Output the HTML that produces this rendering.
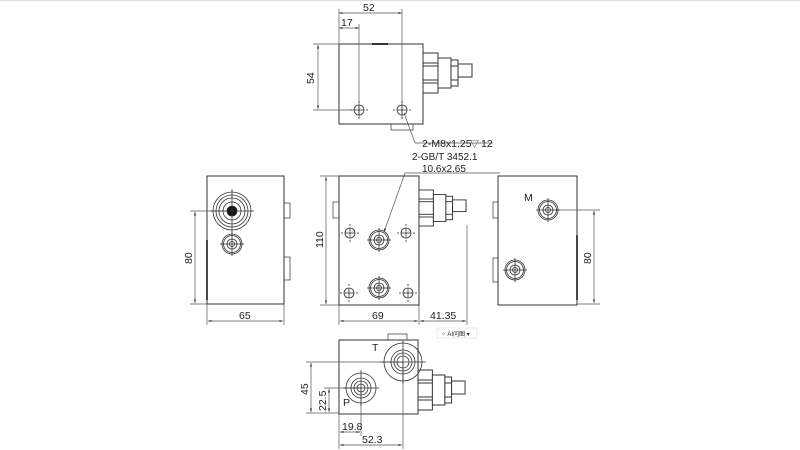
<!DOCTYPE html>
<html><head><meta charset="utf-8"><style>
html,body{margin:0;padding:0;background:#fff;width:800px;height:450px;overflow:hidden}
svg{display:block}
text{font-family:"Liberation Sans","Noto Sans CJK SC",sans-serif;fill:#222}
</style></head><body>
<svg width="800" height="450" viewBox="0 0 800 450" xmlns="http://www.w3.org/2000/svg">
<defs>
<g id="fit" fill="#fff" stroke="#333" stroke-width="1">
<rect x="0" y="0" width="15" height="40"/>
<line x1="0" y1="10" x2="15" y2="10"/><line x1="0" y1="13" x2="15" y2="13"/>
<line x1="0" y1="27" x2="15" y2="27"/><line x1="0" y1="30" x2="15" y2="30"/>
<rect x="15" y="5" width="13" height="30"/>
<rect x="28" y="7" width="7" height="26"/>
<line x1="28" y1="13" x2="35" y2="13"/><line x1="28" y1="27" x2="35" y2="27"/>
<rect x="35" y="11" width="14" height="13"/>
</g>
<g id="hole" fill="none" stroke="#333" stroke-width="0.8">
<circle r="5"/><line x1="-9" y1="0" x2="-7" y2="0"/><line x1="7" y1="0" x2="9" y2="0"/><line x1="0" y1="-9" x2="0" y2="-7"/><line x1="0" y1="7" x2="0" y2="9"/><line x1="-5" y1="0" x2="5" y2="0"/><line x1="0" y1="-5" x2="0" y2="5"/>
</g>
<g id="port" fill="none" stroke="#333" stroke-width="0.8">
<circle r="10"/><circle r="8.5"/><circle r="5"/><circle r="2.5"/>
<line x1="-12" y1="0" x2="12" y2="0"/><line x1="0" y1="-12" x2="0" y2="12"/>
</g>
<marker id="a" viewBox="0 0 10 10" refX="10" refY="5" markerWidth="7" markerHeight="5" orient="auto-start-reverse"><path d="M0,2 L10,5 L0,8z" fill="#333"/></marker>
</defs>
<line x1="0" y1="0.5" x2="800" y2="0.5" stroke="#ddd"/>
<g stroke="#555" stroke-width="0.7" fill="none">
<!-- top view -->
<rect x="339" y="44" width="84" height="80" stroke="#333" stroke-width="1"/>
<rect x="391" y="124" width="22" height="6" stroke="#333"/>
<line x1="372" y1="44" x2="388" y2="44" stroke="#333" stroke-width="2"/>
<line x1="339" y1="9" x2="339" y2="44"/><line x1="402" y1="9" x2="402" y2="118"/><line x1="359" y1="24" x2="359" y2="118"/>
<line x1="339" y1="13" x2="402" y2="13" marker-start="url(#a)" marker-end="url(#a)"/>
<line x1="339" y1="28" x2="359" y2="28" marker-start="url(#a)" marker-end="url(#a)"/>
<line x1="313" y1="44" x2="339" y2="44"/><line x1="313" y1="110" x2="354" y2="110"/>
<line x1="318" y1="45" x2="318" y2="109" marker-start="url(#a)" marker-end="url(#a)"/>
<line x1="404" y1="113" x2="415" y2="143"/><line x1="415" y1="143" x2="493" y2="143"/>
<line x1="405" y1="173" x2="500" y2="173"/><line x1="405" y1="173" x2="384" y2="232" marker-end="url(#a)"/>
<!-- middle view -->
<rect x="339" y="176" width="80" height="129" stroke="#333" stroke-width="1"/>
<rect x="333" y="202" width="6" height="16" stroke="#333"/>
<line x1="320" y1="176" x2="339" y2="176"/><line x1="320" y1="305" x2="339" y2="305"/>
<line x1="326" y1="177" x2="326" y2="304" marker-start="url(#a)" marker-end="url(#a)"/>
<line x1="339" y1="305" x2="339" y2="325"/><line x1="419" y1="305" x2="419" y2="325"/><line x1="467" y1="225" x2="467" y2="325"/>
<line x1="340" y1="321" x2="418" y2="321" marker-start="url(#a)" marker-end="url(#a)"/>
<line x1="420" y1="321" x2="466" y2="321" marker-start="url(#a)" marker-end="url(#a)"/>
<!-- left view -->
<rect x="207" y="176" width="77" height="128" stroke="#333" stroke-width="1"/>
<rect x="284" y="203" width="6" height="15" stroke="#333"/><rect x="284" y="257" width="6" height="23" stroke="#333"/>
<line x1="207" y1="240" x2="207" y2="300" stroke="#333" stroke-width="1.8"/>
<line x1="190" y1="211" x2="232" y2="211"/><line x1="190" y1="304" x2="207" y2="304"/>
<line x1="195" y1="212" x2="195" y2="303" marker-start="url(#a)" marker-end="url(#a)"/>
<line x1="207" y1="304" x2="207" y2="325"/><line x1="284" y1="304" x2="284" y2="325"/>
<line x1="208" y1="321" x2="283" y2="321" marker-start="url(#a)" marker-end="url(#a)"/>
<!-- right view -->
<rect x="498" y="176" width="79" height="129" stroke="#333" stroke-width="1"/>
<rect x="493" y="202" width="5" height="16" stroke="#333"/><rect x="493" y="258" width="5" height="24" stroke="#333"/>
<line x1="577" y1="235" x2="577" y2="300" stroke="#333" stroke-width="1.8"/>
<line x1="555" y1="210" x2="600" y2="210"/><line x1="577" y1="304" x2="600" y2="304"/>
<line x1="594" y1="211" x2="594" y2="303" marker-start="url(#a)" marker-end="url(#a)"/>
<!-- bottom view -->
<rect x="339" y="340" width="79" height="74" stroke="#333" stroke-width="1"/>
<rect x="388" y="334" width="19" height="6" stroke="#333"/>
<line x1="306" y1="362" x2="403" y2="362"/><line x1="306" y1="413" x2="339" y2="413"/><line x1="324" y1="388" x2="361" y2="388"/>
<line x1="311" y1="363" x2="311" y2="412" marker-start="url(#a)" marker-end="url(#a)"/>
<line x1="329" y1="389" x2="329" y2="412" marker-start="url(#a)" marker-end="url(#a)"/>
<line x1="339" y1="414" x2="339" y2="449"/><line x1="361" y1="388" x2="361" y2="436"/><line x1="403" y1="362" x2="403" y2="449"/>
<line x1="340" y1="432" x2="360" y2="432" marker-start="url(#a)" marker-end="url(#a)"/>
<line x1="340" y1="445" x2="402" y2="445" marker-start="url(#a)" marker-end="url(#a)"/>
</g>
<!-- fittings -->
<use href="#fit" x="423" y="53"/>
<use href="#fit" transform="translate(419,190) scale(0.96,0.9)"/>
<use href="#fit" transform="translate(418,370) scale(0.96,1)"/>
<!-- holes -->
<use href="#hole" x="359" y="110"/><use href="#hole" x="402" y="110"/>
<use href="#hole" x="350" y="233"/><use href="#hole" x="406" y="233"/>
<use href="#hole" x="349" y="293"/><use href="#hole" x="408" y="293"/>
<use href="#port" x="379" y="240"/><use href="#port" x="379" y="288"/>
<use href="#port" x="232" y="244"/>
<use href="#port" x="548" y="210"/><use href="#port" x="515" y="270"/>
<g fill="none" stroke="#333" stroke-width="0.8">
<circle cx="232" cy="211" r="19"/><circle cx="232" cy="211" r="16"/><circle cx="232" cy="211" r="13"/><circle cx="232" cy="211" r="9"/><circle cx="232" cy="211" r="5" fill="#111"/>
<line x1="210" y1="211" x2="254" y2="211"/><line x1="232" y1="189" x2="232" y2="233"/>
<circle cx="403" cy="362" r="19"/><circle cx="403" cy="362" r="12"/><circle cx="403" cy="362" r="9"/><circle cx="403" cy="362" r="6"/>
<line x1="380" y1="362" x2="426" y2="362"/><line x1="403" y1="340" x2="403" y2="384"/>
<circle cx="361" cy="388" r="15"/><circle cx="361" cy="388" r="10"/><circle cx="361" cy="388" r="7"/><circle cx="361" cy="388" r="4"/>
<line x1="343" y1="388" x2="379" y2="388"/><line x1="361" y1="370" x2="361" y2="406"/>
</g>
<!-- text -->
<g font-size="10.5">
<text x="363" y="11">52</text>
<text x="341" y="26">17</text>
<text transform="translate(314,84) rotate(-90)">54</text>
<text x="422" y="147">2-M8x1.25</text><text x="470" y="147" font-size="9">▽</text><text x="481" y="147">12</text>
<text x="412" y="160" font-size="10">2-GB/T 3452.1</text>
<text x="422" y="172" font-size="10">10.6x2.65</text>
<text transform="translate(323,248) rotate(-90)">110</text>
<text x="372" y="319">69</text><text x="430" y="319">41.35</text>
<text transform="translate(192,264) rotate(-90)">80</text>
<text x="239" y="319">65</text>
<text x="524" y="201">M</text>
<text transform="translate(591,264) rotate(-90)">80</text>
<text x="372" y="351">T</text><text x="343" y="406">P</text>
<text transform="translate(308,395) rotate(-90)">45</text>
<text transform="translate(326,411) rotate(-90)">22.5</text>
<text x="342" y="430">19.8</text><text x="362" y="443">52.3</text>
</g>
<rect x="437" y="328" width="40" height="10" fill="#fff" stroke="#ddd" stroke-width="0.6"/>
<text x="441" y="336" font-size="6" fill="#444">⁘ AI问图 ▾</text>
</svg>
</body></html>
